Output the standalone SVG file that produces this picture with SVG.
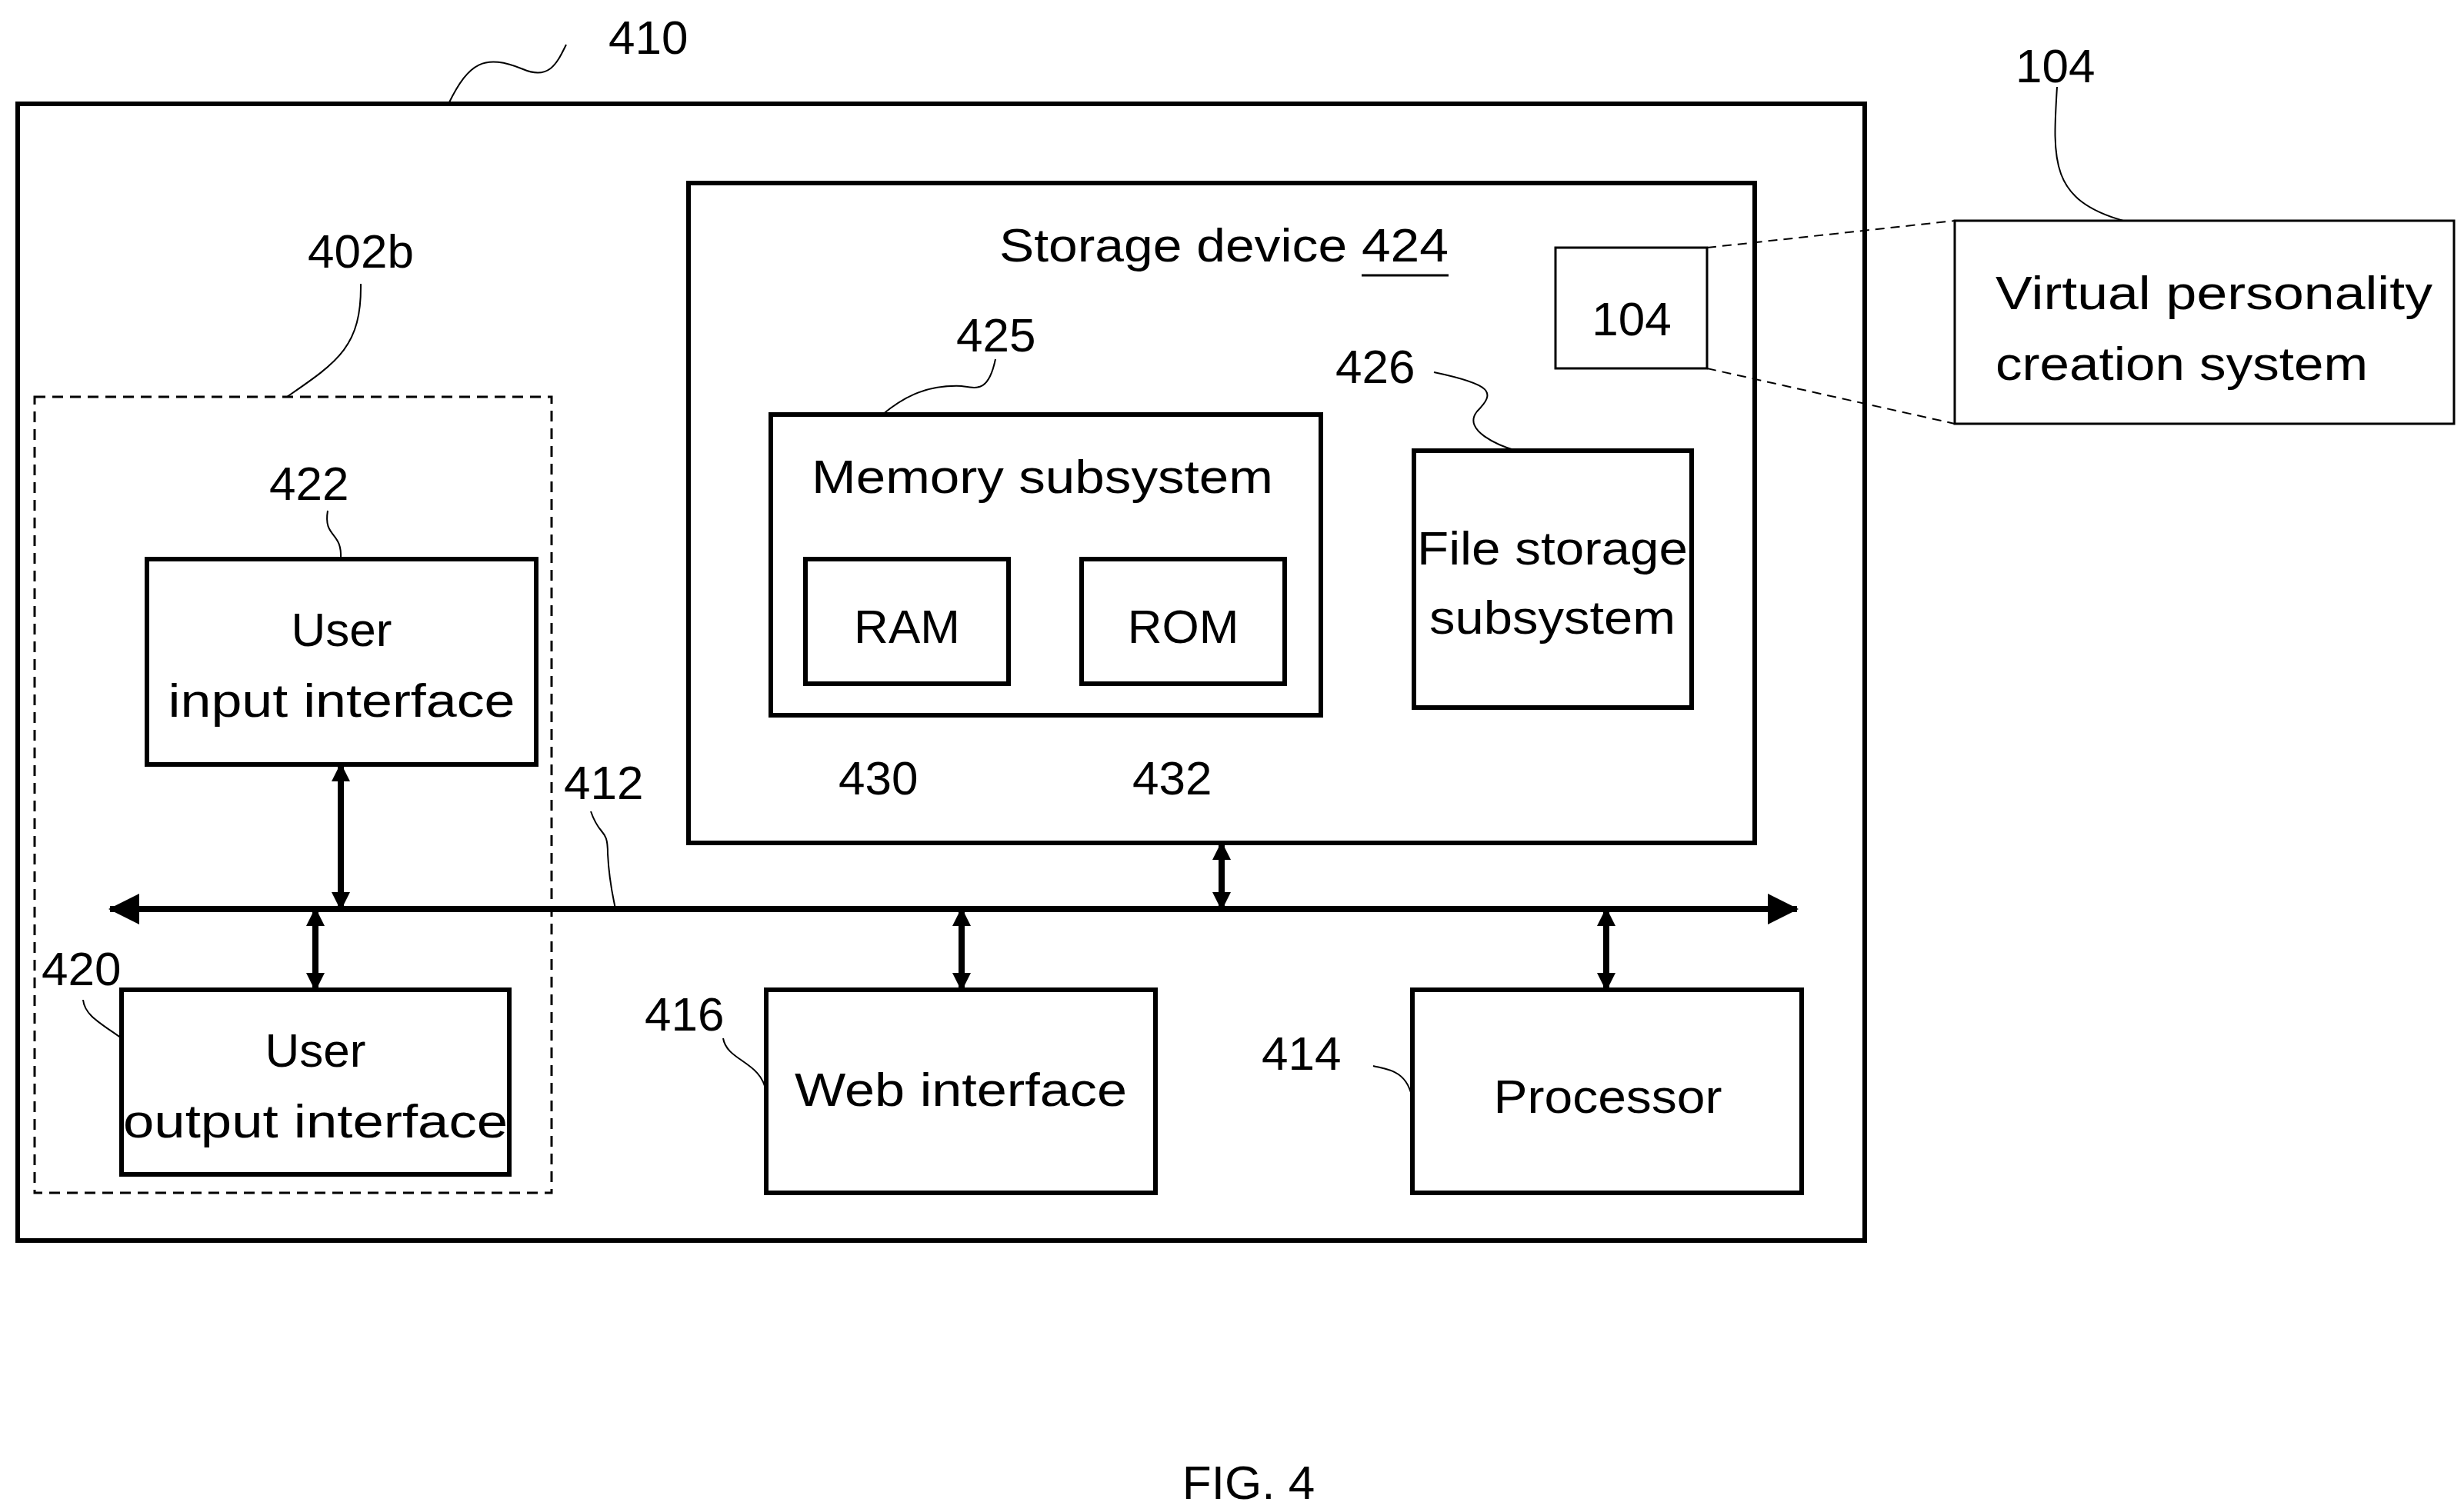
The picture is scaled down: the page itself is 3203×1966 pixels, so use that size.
<svg xmlns="http://www.w3.org/2000/svg" width="3203" height="1966" viewBox="0 0 3203 1966">
<style>
.b{fill:none;stroke:#000;stroke-width:6}
.t{font-family:"Liberation Sans Narrow","Liberation Sans",sans-serif;font-size:62px;fill:#000}
.m{text-anchor:middle}
.l{fill:none;stroke:#000;stroke-width:2}
.a{stroke:#000;stroke-width:8;fill:none}
</style>
<defs>
<marker id="h" markerUnits="userSpaceOnUse" markerWidth="24" markerHeight="30" refX="22" refY="12" orient="auto-start-reverse" viewBox="0 0 24 24"><path d="M0,0 L24,12 L0,24 Z"/></marker>
<marker id="hb" markerUnits="userSpaceOnUse" markerWidth="40" markerHeight="40" refX="38" refY="20" orient="auto-start-reverse" viewBox="0 0 40 40"><path d="M0,0 L40,20 L0,40 Z"/></marker>
</defs>
<rect width="3203" height="1966" fill="#fff"/>
<g id="n410"><rect class="b" x="23" y="135" width="2401" height="1478"/><text class="t" x="791" y="70">410</text></g>
<g id="n424"><rect class="b" x="895" y="238" width="1386" height="858"/><text class="t" x="1299" y="340" textLength="584" lengthAdjust="spacingAndGlyphs">Storage device 424</text><line x1="1770" y1="358" x2="1883" y2="358" stroke="#000" stroke-width="3"/></g>
<g id="n425"><rect class="b" x="1002" y="539" width="715" height="391"/><text class="t" x="1055" y="641" textLength="600" lengthAdjust="spacingAndGlyphs">Memory subsystem</text><text class="t" x="1243" y="457">425</text></g>
<g id="n430"><rect class="b" x="1047" y="727" width="264" height="162"/><text class="t m" x="1179" y="836">RAM</text><text class="t" x="1090" y="1033">430</text></g>
<g id="n432"><rect class="b" x="1406" y="727" width="264" height="162"/><text class="t m" x="1538" y="836">ROM</text><text class="t" x="1472" y="1033">432</text></g>
<g id="n426"><rect class="b" x="1838" y="586" width="361" height="334"/><text class="t m" x="2018" y="734" textLength="352" lengthAdjust="spacingAndGlyphs">File storage</text><text class="t m" x="2018" y="824" textLength="320" lengthAdjust="spacingAndGlyphs">subsystem</text><text class="t" x="1736" y="498">426</text></g>
<g id="n104box"><rect fill="none" stroke="#000" stroke-width="3" x="2022" y="322" width="197" height="157"/><text class="t m" x="2121" y="436">104</text></g>
<g id="n104"><rect fill="none" stroke="#000" stroke-width="3" x="2541" y="287" width="649" height="264"/><text class="t" x="2594" y="402" textLength="568" lengthAdjust="spacingAndGlyphs">Virtual personality</text><text class="t" x="2594" y="494" textLength="484" lengthAdjust="spacingAndGlyphs">creation system</text><text class="t" x="2620" y="107">104</text></g>
<g id="n402b"><rect fill="none" stroke="#000" stroke-width="3" stroke-dasharray="14,9" x="45" y="516" width="672" height="1035"/><text class="t" x="400" y="348">402b</text></g>
<g id="n422"><rect class="b" x="191" y="727" width="506" height="267"/><text class="t m" x="444" y="840">User</text><text class="t m" x="444" y="932" textLength="451" lengthAdjust="spacingAndGlyphs">input interface</text><text class="t" x="350" y="650">422</text></g>
<g id="n420"><rect class="b" x="158" y="1287" width="504" height="240"/><text class="t m" x="410" y="1387">User</text><text class="t m" x="410" y="1479" textLength="500" lengthAdjust="spacingAndGlyphs">output interface</text><text class="t" x="54" y="1281">420</text></g>
<g id="n416"><rect class="b" x="996" y="1287" width="506" height="264"/><text class="t m" x="1249" y="1438" textLength="432" lengthAdjust="spacingAndGlyphs">Web interface</text><text class="t" x="838" y="1340">416</text></g>
<g id="n414"><rect class="b" x="1836" y="1287" width="506" height="264"/><text class="t m" x="2090" y="1447" textLength="297" lengthAdjust="spacingAndGlyphs">Processor</text><text class="t" x="1640" y="1391">414</text></g>
<g id="n412"><text class="t" x="733" y="1039">412</text></g>
<text class="t m" x="1623" y="1949">FIG. 4</text>
<g id="connectors">
<path class="l" d="M583,135 C610,80 630,70 680,90 C715,105 725,80 736,58"/>
<path class="l" d="M2674,113 C2668,210 2665,260 2760,287"/>
<path class="l" d="M1294,467 C1285,510 1270,505 1250,502 C1200,500 1170,520 1147,539"/>
<path class="l" d="M1864,484 C1940,500 1945,510 1920,535 C1900,560 1950,580 1971,586"/>
<path class="l" d="M469,369 C470,450 440,470 373,516"/>
<path class="l" d="M426,664 C420,700 445,690 443,727"/>
<path class="l" d="M768,1055 C780,1090 790,1075 790,1110 C792,1150 798,1170 800,1182"/>
<path class="l" d="M108,1300 C110,1320 130,1330 158,1350"/>
<path class="l" d="M940,1350 C945,1380 990,1380 996,1420"/>
<path class="l" d="M1785,1386 C1800,1390 1830,1390 1836,1430"/>
<path fill="none" stroke="#000" stroke-width="2" stroke-dasharray="12,8" d="M2219,322 L2541,287 M2219,479 L2541,551"/>
<line class="a" stroke-width="10" x1="143" y1="1182" x2="2336" y2="1182" marker-start="url(#hb)" marker-end="url(#hb)"/>
<line class="a" x1="443" y1="994" x2="443" y2="1182" marker-start="url(#h)" marker-end="url(#h)"/>
<line class="a" x1="410" y1="1182" x2="410" y2="1287" marker-start="url(#h)" marker-end="url(#h)"/>
<line class="a" x1="1588" y1="1096" x2="1588" y2="1182" marker-start="url(#h)" marker-end="url(#h)"/>
<line class="a" x1="1250" y1="1182" x2="1250" y2="1287" marker-start="url(#h)" marker-end="url(#h)"/>
<line class="a" x1="2088" y1="1182" x2="2088" y2="1287" marker-start="url(#h)" marker-end="url(#h)"/>
</g>
</svg>
